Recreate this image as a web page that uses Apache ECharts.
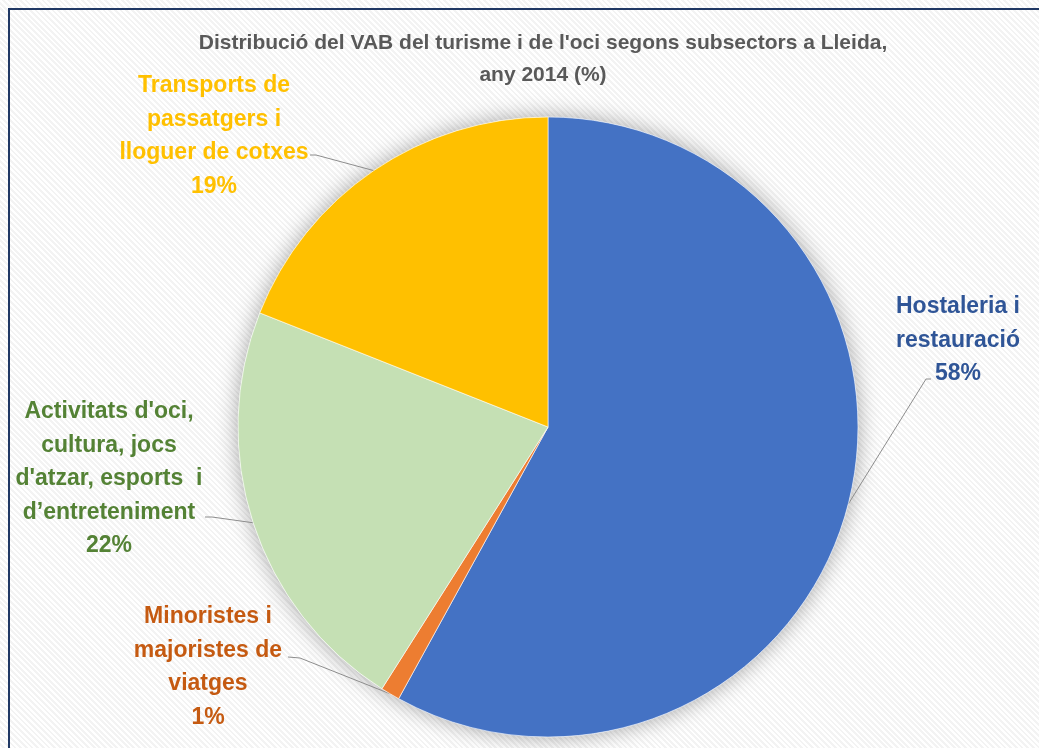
<!DOCTYPE html>
<html>
<head>
<meta charset="utf-8">
<script src="https://cdn.jsdelivr.net/npm/echarts@6/dist/echarts.min.js"></script>
<style>
  html, body { margin: 0; padding: 0; background: #fff; }
  #chart {
    width: 1039px; height: 748px;
    background: repeating-linear-gradient(45deg, #ffffff 0px, #ffffff 2px, #f3f3f3 2px, #f3f3f3 4px);
  }
</style>
</head>
<body>
<div id="chart"></div>
<script>
const titleLines = ["Distribució del VAB del turisme i de l'oci segons subsectors a Lleida,", "any 2014 (%)"];
const categories = [
  "Hostaleria i\nrestauració",
  "Minoristes i\nmajoristes de\nviatges",
  "Activitats d'oci,\ncultura, jocs\nd'atzar, esports  i\nd’entreteniment",
  "Transports de\npassatgers i\nlloguer de cotxes"
];
const values = [58, 1, 22, 19];
const sliceColors = ["#4472C4", "#ED7D31", "#C5E0B4", "#FFC000"];
const labelColors = ["#2F5597", "#C55A11", "#548235", "#FFC000"];

const CX = 548, CY = 427, R = 310;
// label block anchor (center x, top y) and leader line elbow/end
const labelPos = [
  { x: 958, y: 290, line: [[926, 379], [931, 379]] },
  { x: 208, y: 600, line: [[300, 658], [288, 657]] },
  { x: 109, y: 395, line: [[212, 517], [205, 517]] },
  { x: 214, y: 69,  line: [[316, 155], [310, 155]] }
];

const total = values.reduce((a, b) => a + b, 0);
const midAngles = [];
let acc = 0;
values.forEach(v => { midAngles.push((acc + v / 2) / total * 2 * Math.PI); acc += v; });

const chart = echarts.init(document.getElementById('chart'), null, { renderer: 'canvas' });
chart.setOption({
  animation: false,
  backgroundColor: 'transparent',
  title: {
    text: titleLines.join('\n'),
    left: 538, top: 22, textAlign: 'center',
    textStyle: { fontFamily: 'Liberation Sans, Arial, sans-serif', fontWeight: 'bold', fontSize: 21, color: '#595959', lineHeight: 32 }
  },
  graphic: [{
    type: 'rect', silent: true, z: 100,
    shape: { x: 9, y: 9, width: 1200, height: 900 },
    style: { fill: 'none', stroke: '#203864', lineWidth: 2 }
  }],
  series: [
    {
      type: 'pie', silent: true, z: 1,
      center: [CX, CY], radius: R,
      label: { show: false }, labelLine: { show: false },
      itemStyle: { color: '#ffffff', shadowBlur: 22, shadowColor: 'rgba(0,0,0,0.35)' },
      data: [{ value: 1, name: 'shadow' }]
    },
    {
      type: 'pie', z: 2,
      center: [CX, CY], radius: R,
      startAngle: 90, clockwise: true,
      itemStyle: { borderColor: '#ffffff', borderWidth: 0.6 },
      label: {
        show: true, position: 'outside',
        formatter: p => p.name + '\n' + p.value + '%',
        fontFamily: 'Liberation Sans, Arial, sans-serif', fontWeight: 'bold', fontSize: 23, lineHeight: 33.5,
        align: 'center'
      },
      labelLine: { show: true, lineStyle: { color: '#8c8c8c', width: 1 } },
      labelLayout: function (params) {
        const i = params.dataIndex;
        const lp = labelPos[i];
        const a = midAngles[i];
        const edge = [CX + R * Math.sin(a), CY - R * Math.cos(a)];
        return {
          x: lp.x, y: lp.y, align: 'center', verticalAlign: 'top',
          labelLinePoints: [edge, lp.line[0], lp.line[1]]
        };
      },
      data: values.map((v, i) => ({
        value: v, name: categories[i],
        itemStyle: { color: sliceColors[i] },
        label: { color: labelColors[i] }
      }))
    }
  ]
});
</script>
</body>
</html>
